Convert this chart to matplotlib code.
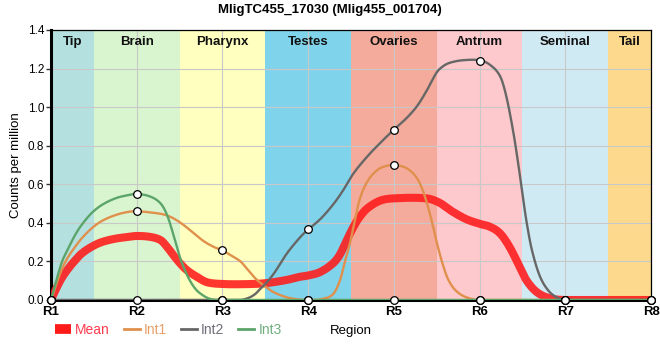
import numpy as np
import matplotlib
matplotlib.use('Agg')
import matplotlib.pyplot as plt
from matplotlib.lines import Line2D

plt.rcParams['font.family'] = ['Liberation Sans', 'DejaVu Sans']

# regions along the body
regions = ['R1', 'R2', 'R3', 'R4', 'R5', 'R6', 'R7', 'R8']
region_names = ['Tip', 'Brain', 'Pharynx', 'Testes', 'Ovaries', 'Antrum', 'Seminal', 'Tail']
region_colors = ['#b4e1df', '#d9f5cf', '#ffffc0', '#7fd3ea', '#f4ab9c', '#fdc9cc', '#d0eaf4', '#fcd98c']

# values at the region points (circle markers)
int1_pts = [0, 0.46, 0.26, 0, 0.70, 0, 0, 0]
int2_pts = [0, 0, 0, 0.37, 0.88, 1.24, 0, 0]
int3_pts = [0, 0.55, 0, 0, 0, 0, 0, 0]

# smoothed profiles (position in region units, value)
mean_x = [1.0, 1.04, 1.12, 1.2, 1.28, 1.355, 1.47, 1.59, 1.75, 1.9, 2.0, 2.16, 2.28, 2.355, 2.43,
          2.51, 2.59, 2.71, 2.82, 3.0, 3.25, 3.5, 3.75, 3.9, 4.0, 4.14, 4.29, 4.37, 4.45, 4.53,
          4.6, 4.69, 4.84, 5.0, 5.38, 5.53, 5.66, 5.84, 6.0, 6.12, 6.24, 6.35, 6.47, 6.55, 6.67,
          6.82, 7.0, 8.0]
mean_y = [0, 0.04, 0.11, 0.162, 0.205, 0.24, 0.275, 0.30, 0.318, 0.327, 0.332, 0.327, 0.31, 0.275, 0.231,
          0.188, 0.153, 0.118, 0.092, 0.083, 0.082, 0.087, 0.104, 0.12, 0.127, 0.145, 0.19, 0.235, 0.31, 0.38,
          0.43, 0.475, 0.515, 0.527, 0.527, 0.505, 0.465, 0.42, 0.395, 0.38, 0.345, 0.275, 0.17, 0.10, 0.04,
          0.009, 0, 0]

int1_x = [1.0, 1.12, 1.2, 1.28, 1.355, 1.47, 1.59, 1.75, 1.9, 2.0, 2.16, 2.32, 2.43, 2.55, 2.67,
          2.785, 2.9, 3.0, 3.1, 3.21, 3.3, 3.4, 3.5, 3.6, 3.75, 3.9, 4.0, 4.15, 4.29, 4.37, 4.43,
          4.48, 4.53, 4.6, 4.69, 4.81, 4.92, 5.0, 5.15, 5.27, 5.35, 5.43, 5.5, 5.56, 5.63, 5.72,
          5.84, 6.0, 8.0]
int1_y = [0, 0.153, 0.223, 0.275, 0.318, 0.37, 0.409, 0.44, 0.457, 0.46, 0.454, 0.443, 0.423, 0.388, 0.344,
          0.304, 0.275, 0.257, 0.231, 0.20, 0.155, 0.105, 0.07, 0.04, 0.014, 0.002, 0, 0.004, 0.03, 0.10, 0.20,
          0.28, 0.38, 0.52, 0.614, 0.675, 0.696, 0.70, 0.683, 0.631, 0.553, 0.431, 0.30, 0.20, 0.11, 0.05,
          0.015, 0, 0]

int2_x = [1.0, 3.2, 3.3, 3.38, 3.44, 3.5, 3.6, 3.75, 3.91, 4.0, 4.15, 4.3, 4.41, 4.53, 4.69, 4.84,
          5.0, 5.15, 5.27, 5.38, 5.5, 5.58, 5.66, 5.8, 6.0, 6.12, 6.24, 6.31, 6.39, 6.45, 6.5,
          6.55, 6.61, 6.7, 6.8, 6.9, 7.0, 8.0]
int2_y = [0, 0, 0.01, 0.03, 0.057, 0.083, 0.137, 0.24, 0.327, 0.365, 0.423, 0.50, 0.57, 0.657, 0.744, 0.814,
          0.883, 0.944, 1.005, 1.083, 1.18, 1.214, 1.231, 1.243, 1.243, 1.22, 1.16, 1.06, 0.88, 0.71, 0.55,
          0.40, 0.26, 0.127, 0.05, 0.014, 0, 0]

int3_x = [1.0, 1.12, 1.2, 1.28, 1.355, 1.47, 1.59, 1.75, 1.9, 2.0, 2.16, 2.28, 2.355, 2.43, 2.51,
          2.59, 2.67, 2.75, 2.86, 3.0, 8.0]
int3_y = [0, 0.188, 0.266, 0.336, 0.388, 0.449, 0.492, 0.527, 0.544, 0.55, 0.536, 0.50, 0.44, 0.336, 0.214,
          0.127, 0.066, 0.031, 0.005, 0, 0]


def smooth_curve(x, y, xs):
    # Catmull-Rom style cubic Hermite through the read points
    x = np.asarray(x, float)
    y = np.asarray(y, float)
    h = np.diff(x)
    m = np.empty_like(y)
    m[1:-1] = (y[2:] - y[:-2]) / (x[2:] - x[:-2])
    m[0] = (y[1] - y[0]) / h[0]
    m[-1] = (y[-1] - y[-2]) / h[-1]
    i = np.clip(np.searchsorted(x, xs, side='right') - 1, 0, len(x) - 2)
    t = (xs - x[i]) / h[i]
    h00 = 2 * t**3 - 3 * t**2 + 1
    h10 = t**3 - 2 * t**2 + t
    h01 = -2 * t**3 + 3 * t**2
    h11 = t**3 - t**2
    ys = h00 * y[i] + h10 * h[i] * m[i] + h01 * y[i + 1] + h11 * h[i] * m[i + 1]
    return np.clip(ys, 0, None)


pos = np.arange(1, len(regions) + 1)
xs = np.linspace(1, len(regions), 1400)

fig = plt.figure(figsize=(6.6, 3.6), dpi=100)
ax = fig.add_axes([51 / 660, 60 / 360, 600 / 660, 270 / 360])

# coloured body-region bands
for p, name, col in zip(pos, region_names, region_colors):
    lo = max(p - 0.5, pos[0])
    hi = min(p + 0.5, pos[-1])
    ax.axvspan(lo, hi, color=col, lw=0, zorder=0)
    ax.text((lo + hi) / 2, 0.955, name, transform=ax.get_xaxis_transform(),
            ha='center', va='center', fontsize=9.5, fontweight='bold', color='#111111')

c_mean = '#ff1a1a'
c_int1 = '#e0904c'
c_int2 = '#676767'
c_int3 = '#5ca56a'

ax.plot(xs, smooth_curve(mean_x, mean_y, xs), color=c_mean, lw=5.8, alpha=0.88,
        solid_capstyle='butt', zorder=3)
ax.plot(xs, smooth_curve(int1_x, int1_y, xs), color=c_int1, lw=1.7, zorder=4)
ax.plot(xs, smooth_curve(int2_x, int2_y, xs), color=c_int2, lw=1.7, zorder=4)
ax.plot(xs, smooth_curve(int3_x, int3_y, xs), color=c_int3, lw=1.7, zorder=4)

for pts in (int1_pts, int2_pts, int3_pts):
    ax.plot(pos, pts, ls='none', marker='o', ms=5.5, mfc='white', mec='black',
            mew=0.9, zorder=6, clip_on=False)

ax.set_xlim(1, 8)
ax.set_ylim(0, 1.4)
ax.set_xticks(pos)
ax.set_xticklabels(regions, fontweight='bold', fontsize=9.5)
ax.set_yticks(np.arange(0, 1.41, 0.2))
ax.set_yticklabels(['%.1f' % v for v in np.arange(0, 1.41, 0.2)], fontsize=8.5)
ax.tick_params(axis='y', length=3.5, width=1, pad=1.5, color='#333333')
ax.tick_params(axis='x', length=0, pad=4)
ax.grid(True, color='#c8c8c8', lw=0.8, zorder=1)

ax.spines['left'].set_linewidth(2.2)
ax.spines['bottom'].set_linewidth(2.2)
ax.spines['top'].set_linewidth(0.9)
ax.spines['right'].set_linewidth(0.9)

ax.set_ylabel('Counts per million', fontsize=9.5)
ax.yaxis.set_label_coords(-0.049, 0.5)
ax.set_xlabel('Region', fontsize=9.5)
ax.xaxis.set_label_coords(0.5, -0.115)
ax.xaxis.label.set_va('center')

fig.suptitle('MligTC455_17030 (Mlig455_001704)', x=0.5, y=350 / 360, va='center',
             fontsize=9.5, fontweight='bold')

handles = [Line2D([], [], color=c_mean, lw=7, solid_capstyle='butt'),
           Line2D([], [], color=c_int1, lw=2),
           Line2D([], [], color=c_int2, lw=2),
           Line2D([], [], color=c_int3, lw=2)]
leg = fig.legend(handles, ['Mean', 'Int1', 'Int2', 'Int3'], loc='center left',
                 bbox_to_anchor=(0.083, 30 / 360), ncol=4, frameon=False, fontsize=10,
                 handlelength=1.15, handletextpad=0.3, columnspacing=1.0,
                 borderaxespad=0, borderpad=0)
for txt, col in zip(leg.get_texts(), ['#ff3b4e', '#e8a06a', '#6f6f7a', '#6fae7e']):
    txt.set_color(col)

fig.savefig('out.png', dpi=100)
